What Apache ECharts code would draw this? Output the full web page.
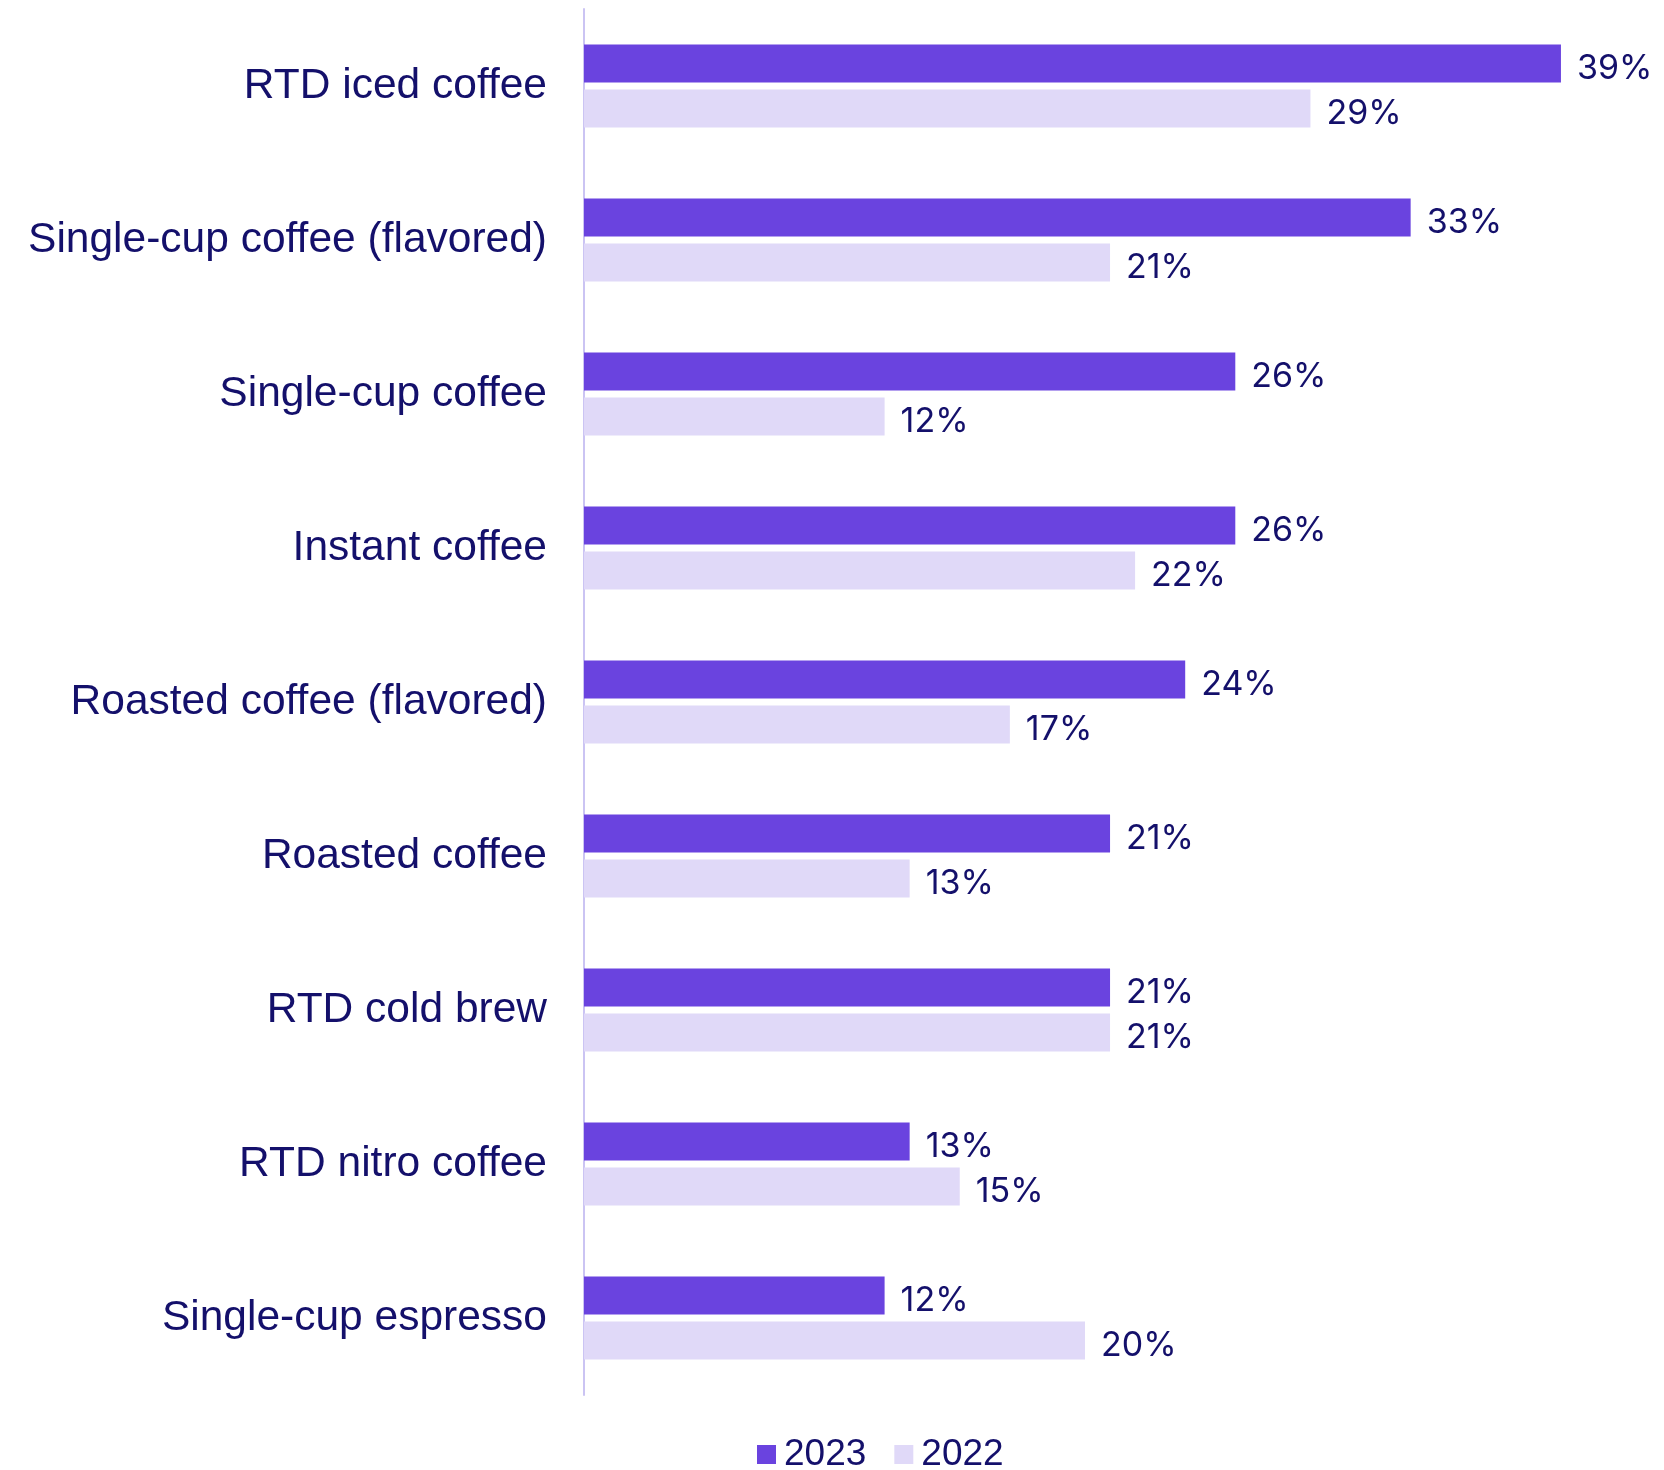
<!DOCTYPE html>
<html>
<head>
<meta charset="utf-8">
<script src="https://cdn.jsdelivr.net/npm/echarts@6/dist/echarts.min.js"></script>
<style>
  html, body { margin: 0; padding: 0; background: #ffffff; }
  #chart { width: 1664px; height: 1470px; }
</style>
</head>
<body>
<div id="chart"></div>
<script>
// Coffee formats: share of respondents, 2023 vs 2022
const categories = [
  'RTD iced coffee',
  'Single-cup coffee (flavored)',
  'Single-cup coffee',
  'Instant coffee',
  'Roasted coffee (flavored)',
  'Roasted coffee',
  'RTD cold brew',
  'RTD nitro coffee',
  'Single-cup espresso'
];
const values2023 = [39, 33, 26, 26, 24, 21, 21, 13, 12];
const values2022 = [29, 21, 12, 22, 17, 13, 21, 15, 20];
const seriesNames = ['2023', '2022'];

const NAVY = '#14106b';
const PURPLE = '#6a43df';
const LAVENDER = '#e0d9f8';

const chart = echarts.init(document.getElementById('chart'), null, { renderer: 'canvas' });

const valueLabel = {
  show: true,
  position: 'right',
  distance: 16,
  offset: [0, 5],
  formatter: '{c}%',
  color: NAVY,
  fontFamily: 'Inter, "Noto Sans", sans-serif',
  fontSize: 34
};

chart.setOption({
  animation: false,
  backgroundColor: '#ffffff',
  grid: { left: 584, top: 9, width: 1002, height: 1386, containLabel: false },
  xAxis: {
    type: 'value',
    min: 0,
    max: 40,
    show: false,
    splitLine: { show: false }
  },
  yAxis: {
    type: 'category',
    data: categories,
    inverse: true,
    axisLine: { show: true, lineStyle: { color: '#cbc4f3', width: 2 } },
    axisTick: { show: false },
    axisLabel: {
      margin: 37,
      color: NAVY,
      fontFamily: '"Liberation Sans", Arial, sans-serif',
      fontSize: 42.5,
      padding: [8, 0, 0, 0]
    }
  },
  legend: {
    left: 752,
    top: 1431,
    itemWidth: 19,
    itemHeight: 19,
    itemGap: 28,
    icon: 'rect',
    textStyle: {
      color: NAVY,
      fontFamily: '"Liberation Sans", Arial, sans-serif',
      fontSize: 37,
      padding: [0, 0, 0, 3]
    },
    data: seriesNames
  },
  series: [
    {
      name: seriesNames[0],
      type: 'bar',
      data: values2023,
      barWidth: 38,
      barGap: '18%',
      itemStyle: { color: PURPLE },
      label: valueLabel
    },
    {
      name: seriesNames[1],
      type: 'bar',
      data: values2022,
      barWidth: 38,
      barGap: '18%',
      itemStyle: { color: LAVENDER },
      label: valueLabel
    }
  ]
});
</script>
</body>
</html>
